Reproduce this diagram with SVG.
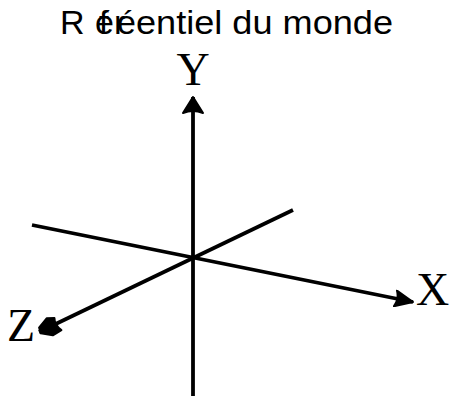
<svg xmlns="http://www.w3.org/2000/svg" width="451" height="396" viewBox="0 0 451 396">
<style>
.title{font-family:"Liberation Sans",Arial,sans-serif;font-size:34px;fill:#000}
.lab{font-family:"Liberation Serif","Times New Roman",serif;font-size:46px;fill:#000}
.axis{stroke:#000;stroke-width:3.8;fill:none;stroke-linecap:butt}
.head{fill:#000;stroke:#000;stroke-width:2;stroke-linejoin:round}
</style>
<defs>
<marker id="arrY" viewBox="0 0 18 22" refX="17" refY="11" markerWidth="18" markerHeight="22" orient="auto" markerUnits="userSpaceOnUse">
<path class="head" d="M1,1 L17,11 L1,21 Q5,11 1,1 Z"/>
</marker>
<marker id="arrX" viewBox="0 0 20 18" refX="19" refY="9" markerWidth="20" markerHeight="18" orient="auto" markerUnits="userSpaceOnUse">
<path class="head" d="M1,1 L19,9 L1,17 Q5,9 1,1 Z"/>
</marker>
<marker id="arrZ" viewBox="0 0 24 22" refX="23" refY="11" markerWidth="24" markerHeight="22" orient="auto" markerUnits="userSpaceOnUse">
<path class="head" d="M2,3 L12,2 L22,9 L21,15 L10,20 L3,17 Q6,11 2,3 Z" stroke-width="3"/>
</marker>
</defs>
<rect width="451" height="396" fill="#fff"/>
<g id="title">
<text class="title" x="60" y="34">R</text>
<text class="title" x="95" y="34">é</text>
<text class="title" x="99" y="34">f</text>
<text class="title" x="114" y="34">r</text>
<text class="title" x="117" y="34">é</text>
<text class="title" x="136" y="34" textLength="257" lengthAdjust="spacingAndGlyphs">entiel du monde</text>
</g>
<g id="connectors">
<line id="y-axis" class="axis" x1="193" y1="396" x2="193" y2="97" marker-end="url(#arrY)"/>
<line id="x-axis" class="axis" x1="32" y1="225" x2="413" y2="302" marker-end="url(#arrX)"/>
<line id="z-axis" class="axis" x1="293" y1="210" x2="39" y2="332" marker-end="url(#arrZ)"/>
</g>
<g id="label-y"><text class="lab" x="193" y="85" text-anchor="middle">Y</text></g>
<g id="label-x"><text class="lab" x="416" y="305">X</text></g>
<g id="label-z"><text class="lab" x="7" y="341">Z</text></g>
</svg>
